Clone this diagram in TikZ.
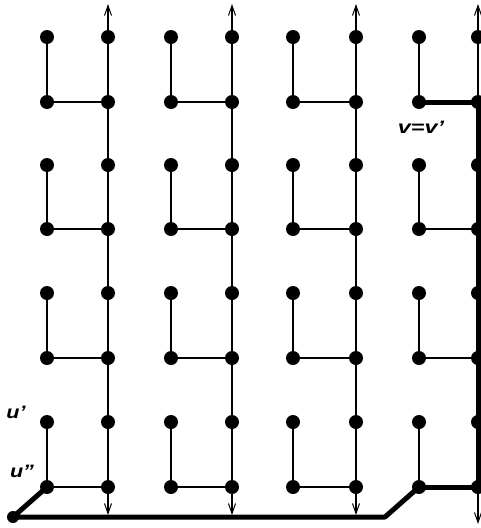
\documentclass[tikz,border=0pt]{standalone}
\usepackage{fontspec}
\setmainfont{Liberation Sans}
\usetikzlibrary{arrows.meta}
\tikzset{
  dot/.style={circle,fill=black,inner sep=0pt,minimum size=14pt},
  enddot/.style={circle,fill=black,inner sep=0pt,minimum size=12pt},
  thin line/.style={line width=1.1pt},
  thick line/.style={line width=5pt,line join=round,line cap=round},
  arr/.style={line width=1.1pt,-{Straight Barb[length=10pt,width=7pt,line width=1pt]}},
  lab/.style={font=\bfseries\itshape\fontsize{18}{18}\selectfont,inner sep=0pt}
}
\begin{document}
\begin{tikzpicture}[x=1pt,y=-1pt]
\useasboundingbox (0,0) rectangle (481,528);
% dots
\foreach \c/\x in {1/47,2/108,3/171,4/232,5/293,6/356,7/419,8/478}{
  \foreach \r/\y in {1/37,2/102,3/165,4/229,5/293,6/358,7/422,8/487}{
    \node[dot] (d-\c-\r) at (\x,\y) {};
  }
}
% pairs 1..4: left column links and horizontal links
\foreach \p in {1,2,3,4}{
  \pgfmathtruncatemacro{\L}{2*\p-1}
  \pgfmathtruncatemacro{\R}{2*\p}
  \foreach \k in {1,2,3,4}{
    \pgfmathtruncatemacro{\t}{2*\k-1}
    \pgfmathtruncatemacro{\b}{2*\k}
    \draw[thin line] (d-\L-\t.center) -- (d-\L-\b.center);
    \draw[thin line] (d-\L-\b.center) -- (d-\R-\b.center);
  }
}
% right columns of pairs 1..3
\foreach \R/\x in {2/108,4/232,6/356}{
  \coordinate (top-\R) at (\x,4);
  \coordinate (bot-\R) at (\x,515);
  \draw[thin line] (d-\R-1.center) -- (d-\R-8.center);
  \draw[arr] (d-\R-1.center) -- (top-\R);
  \draw[arr] (d-\R-8.center) -- (bot-\R);
}
% right column of pair 4
\coordinate (top-8) at (478,4);
\coordinate (bot-8) at (478,524);
\draw[arr] (d-8-1.center) -- (top-8);
\draw[thin line] (d-8-1.center) -- (d-8-2.center);
\draw[arr] (d-8-8.center) -- (bot-8);
\draw[thick line] (d-7-2.center) -- (d-8-2.center) -- (d-8-8.center) -- (d-7-8.center);
% bottom thick path
\node[enddot] (bl) at (13,517) {};
\coordinate (br) at (385,517);
\draw[thick line] (d-1-8.center) -- (bl.center) -- (br) -- (d-7-8.center);
% labels
\node[lab] (lu1) at (16,412) {\scalebox{1.2}[1]{u'}};
\node[lab] (lu2) at (22,471) {\scalebox{1.2}[1]{u''}};
\node[lab] (lv) at (421,127) {\scalebox{1.3}[1]{v=v'}};
\end{tikzpicture}
\end{document}
